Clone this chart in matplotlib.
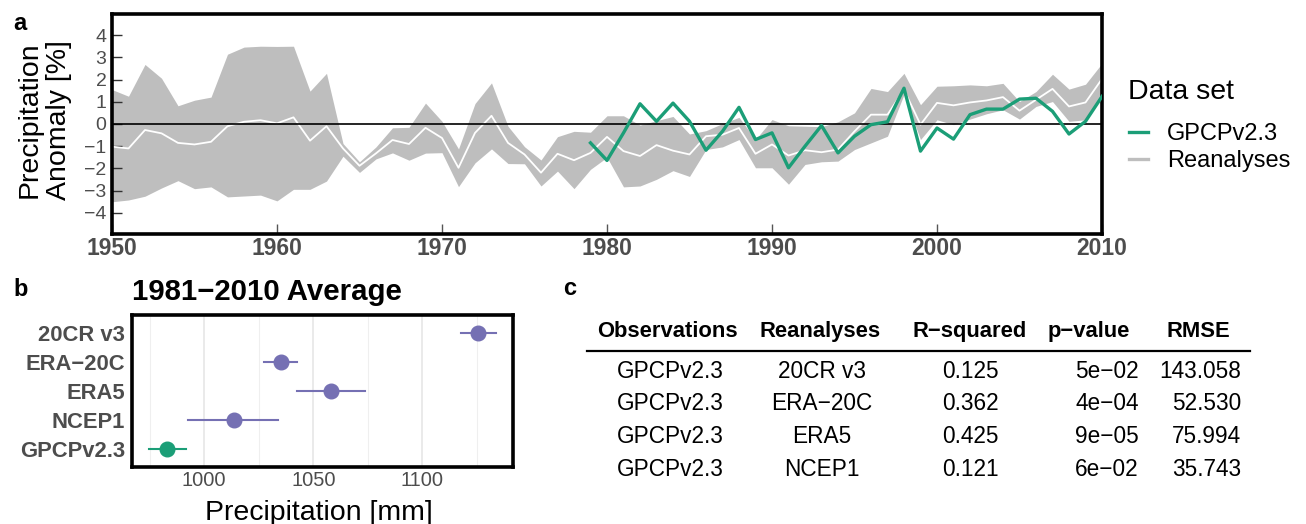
import matplotlib
matplotlib.use("Agg")
import matplotlib.pyplot as plt
from matplotlib.lines import Line2D
import numpy as np

plt.rcParams['font.family'] = ['Liberation Sans', 'DejaVu Sans']
plt.rcParams['axes.unicode_minus'] = True

# ---------------- data: panel a ----------------
years = list(range(1950, 2011))
rean_upper = [1.55, 1.25, 2.68, 2.06, 0.82, 1.07, 1.21, 3.14, 3.46, 3.50,
              3.49, 3.50, 1.48, 2.28, -0.88, -1.70, -1.03, -0.17, -0.15, 0.94,
              0.12, -1.12, 0.92, 1.85, -0.10, -1.02, -1.62, -0.57, -0.33, -0.37,
              0.37, 0.37, -0.05, 0.15, 0.34, -0.45, -0.30, 0.02, 0.30, -0.70,
              0.20, -0.08, -0.10, -0.12, 0.10, 0.50, 1.60, 1.46, 2.28, 0.87,
              1.70, 1.72, 1.76, 1.72, 1.83, 1.01, 1.46, 2.24, 1.57, 1.79,
              2.73]
rean_mean = [-1.02, -1.10, -0.27, -0.42, -0.85, -0.92, -0.80, -0.10, 0.10, 0.17,
             0.03, 0.30, -0.75, -0.10, -1.10, -1.88, -1.32, -0.72, -0.90, -0.17,
             -0.63, -1.97, -0.40, 0.37, -0.85, -1.37, -2.19, -1.34, -1.63, -1.30,
             -0.58, -1.22, -1.44, -0.95, -1.20, -1.37, -0.55, -0.48, -0.18, -1.34,
             -0.92, -1.42, -1.18, -1.27, -1.15, -0.33, 0.42, 0.42, 1.54, -0.03,
             0.95, 0.84, 0.97, 1.06, 1.21, 0.60, 1.09, 1.58, 0.79, 0.97,
             2.03]
rean_lower = [-3.50, -3.42, -3.25, -2.88, -2.55, -2.91, -2.83, -3.28, -3.24, -3.20,
              -3.46, -2.94, -2.94, -2.57, -1.45, -2.18, -1.57, -1.30, -1.63, -1.31,
              -1.29, -2.82, -1.75, -1.12, -1.78, -1.79, -2.79, -2.12, -2.91, -2.04,
              -1.50, -2.83, -2.79, -2.49, -2.10, -2.36, -1.15, -1.03, -0.70, -1.97,
              -1.97, -2.71, -1.82, -1.70, -1.67, -1.15, -0.85, -0.55, 1.33, -0.70,
              0.19, -0.03, 0.22, 0.46, 0.64, 0.22, 0.79, 1.01, 0.12, 0.19,
              1.31]
gpcp_years = list(range(1979, 2011))
gpcp_anom = [-0.85, -1.64, -0.40, 0.91, 0.12, 0.94, 0.12, -1.18, -0.33, 0.75,
             -0.70, -0.40, -1.97, -1.00, -0.07, -1.30, -0.55, -0.03, 0.10, 1.61,
             -1.22, -0.18, -0.68, 0.42, 0.67, 0.67, 1.12, 1.16, 0.57, -0.45,
             0.12, 1.24]
xticks_a = [1950, 1960, 1970, 1980, 1990, 2000, 2010]
yticks_a = [-4, -3, -2, -1, 0, 1, 2, 3, 4]

# ---------------- data: panel b ----------------
b_names = ["GPCPv2.3", "NCEP1", "ERA5", "ERA\u221220C", "20CR v3"]
b_mean = [983.1, 1013.5, 1058.0, 1035.1, 1125.6]
b_low = [974.8, 992.7, 1042.6, 1027.5, 1117.6]
b_high = [991.6, 1033.9, 1073.9, 1042.7, 1133.6]
b_group = ["obs", "rean", "rean", "rean", "rean"]
xticks_b = [1000, 1050, 1100]

# ---------------- data: panel c ----------------
tab_header = ["Observations", "Reanalyses", "R\u2212squared", "p\u2212value", "RMSE"]
tab_obs = ["GPCPv2.3", "GPCPv2.3", "GPCPv2.3", "GPCPv2.3"]
tab_rean = ["20CR v3", "ERA\u221220C", "ERA5", "NCEP1"]
tab_rsq = ["0.125", "0.362", "0.425", "0.121"]
tab_p = ["5e\u221202", "4e\u221204", "9e\u221205", "6e\u221202"]
tab_rmse = ["143.058", "52.530", "75.994", "35.743"]

GREEN = "#1b9e77"
PURPLE = "#7570b3"
BAND = "#bebebe"
TXT = "#4d4d4d"

W, H = 1306, 524
fig = plt.figure(figsize=(W / 100, H / 100), dpi=100)


def fx(px):
    return px / W


def fy(py):
    return 1 - py / H


# ---------------- panel a ----------------
axA = fig.add_axes([fx(112), fy(234), fx(1102) - fx(112), fy(14) - fy(234)])
axA.fill_between(years, rean_lower, rean_upper, color=BAND, lw=0, zorder=1)
axA.plot(years, rean_mean, color="white", lw=1.3, zorder=2)
axA.axhline(0, color="black", lw=1.2, zorder=3)
axA.plot(gpcp_years, gpcp_anom, color=GREEN, lw=2.4, zorder=4)
axA.set_xlim(1950, 2010)
axA.set_ylim(-4.95, 4.95)
axA.set_xticks(xticks_a)
axA.set_yticks(yticks_a)
axA.set_xticklabels([str(v) for v in xticks_a], fontsize=16.5, fontweight="bold", color=TXT)
axA.set_yticklabels([("\u2212" + str(-v)) if v < 0 else str(v) for v in yticks_a],
                    fontsize=14, color=TXT)
axA.tick_params(axis="x", direction="in", length=7, width=1, color="#555555", pad=2)
axA.tick_params(axis="y", direction="in", length=7, width=1, color="#333333", pad=4)
for s in axA.spines.values():
    s.set_linewidth(2.6)
    s.set_color("black")
fig.text(fx(44), fy(120), "Precipitation\nAnomaly [%]", rotation=90, ha="center",
         va="center", fontsize=20.5, multialignment="center", linespacing=1.15)

# legend (title drawn as separate text for exact spacing)
fig.text(fx(1128), fy(92), "Data set", ha="left", va="center", fontsize=20.5)
handles = [Line2D([], [], color=GREEN, lw=2.4), Line2D([], [], color=BAND, lw=2.4)]
leg = fig.legend(handles, ["GPCPv2.3", "Reanalyses"], loc="upper left",
                 bbox_to_anchor=(fx(1129), fy(123)), frameon=False, fontsize=17,
                 handlelength=0.8, handletextpad=0.8, labelspacing=0.23,
                 borderpad=0, borderaxespad=0)

fig.text(fx(13), fy(30), "a", fontsize=17, fontweight="bold", ha="left", va="baseline")

# ---------------- panel b ----------------
axB = fig.add_axes([fx(132), fy(467), fx(513) - fx(132), fy(315) - fy(467)])
ypos = list(range(1, len(b_names) + 1))
for xv in [975, 1025, 1075, 1125]:
    axB.axvline(xv, color="#efefef", lw=0.8, zorder=0)
for xv in xticks_b:
    axB.axvline(xv, color="#e4e4e4", lw=1.1, zorder=0)
for yp, m, lo, hi, g in zip(ypos, b_mean, b_low, b_high, b_group):
    c = GREEN if g == "obs" else PURPLE
    axB.plot([lo, hi], [yp, yp], color=c, lw=1.5, zorder=2)
    axB.plot([m], [yp], marker="o", ms=10.5, color=c, mec=c, zorder=3)
axB.set_xlim(966.9, 1141.5)
axB.set_ylim(0.4, 5.6)
axB.set_xticks(xticks_b)
axB.set_xticklabels([str(v) for v in xticks_b], fontsize=14.5, color=TXT)
axB.set_yticks(ypos)
axB.set_yticklabels(b_names, fontsize=15.8, fontweight="bold", color=TXT)
axB.tick_params(length=0, pad=3)
axB.tick_params(axis="y", pad=5)
for s in axB.spines.values():
    s.set_linewidth(2.6)
    s.set_color("black")
fig.text(fx(319), fy(520), "Precipitation [mm]", ha="center", va="baseline", fontsize=20.5)
fig.text(fx(132), fy(300), "1981\u22122010 Average", ha="left", va="baseline",
         fontsize=21.2, fontweight="bold")
fig.text(fx(13), fy(296), "b", fontsize=17, fontweight="bold", ha="left", va="baseline")

# ---------------- panel c ----------------
fig.text(fx(563), fy(295), "c", fontsize=17, fontweight="bold", ha="left", va="baseline")
head_x = [667.7, 820.5, 970, 1089, 1198]
head_y = 331.5
for hx, ht in zip(head_x, tab_header):
    fig.text(fx(hx), fy(head_y), ht, ha="center", va="center", fontsize=15.8, fontweight="bold")
fig.add_artist(Line2D([fx(587), fx(1250)], [fy(351.3), fy(351.3)], color="black", lw=1.6))
row_y = [371.3, 404.0, 436.5, 469.0]
for ry, a, b, c, d, e in zip(row_y, tab_obs, tab_rean, tab_rsq, tab_p, tab_rmse):
    fig.text(fx(670.8), fy(ry), a, ha="center", va="center", fontsize=16.3)
    fig.text(fx(822), fy(ry), b, ha="center", va="center", fontsize=16.3)
    fig.text(fx(970), fy(ry), c, ha="center", va="center", fontsize=16.3)
    fig.text(fx(1107), fy(ry), d, ha="center", va="center", fontsize=16.3)
    fig.text(fx(1241), fy(ry), e, ha="right", va="center", fontsize=16.3)

fig.savefig("out.png", dpi=100)
